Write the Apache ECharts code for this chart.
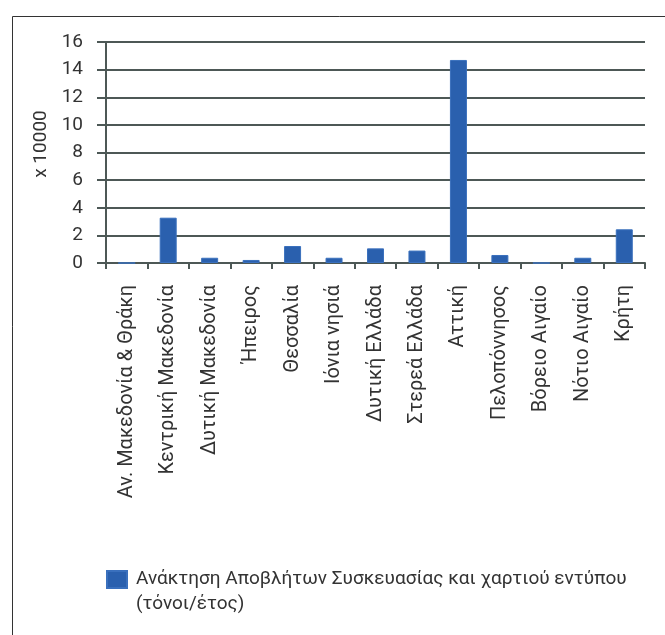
<!DOCTYPE html>
<html>
<head>
<meta charset="utf-8">
<script src="https://cdn.jsdelivr.net/npm/echarts@6/dist/echarts.min.js"></script>
<style>
html,body{margin:0;padding:0;background:#fff;}
#main{width:665px;height:635px;}
</style>
</head>
<body>
<div id="main"></div>
<script>
const categories = ["Αν. Μακεδονία & Θράκη","Κεντρική Μακεδονία","Δυτική Μακεδονία","Ήπειρος","Θεσσαλία","Ιόνια νησιά","Δυτική Ελλάδα","Στερεά Ελλάδα","Αττική","Πελοπόννησος","Βόρειο Αιγαίο","Νότιο Αιγαίο","Κρήτη"];
const values = [0, 3.28, 0.38, 0.22, 1.23, 0.38, 1.06, 0.9, 14.7, 0.58, 0, 0.38, 2.44];
const seriesName = "Ανάκτηση Αποβλήτων Συσκευασίας και χαρτιού εντύπου (τόνοι/έτος)";
const yTicks = { min: 0, max: 16, interval: 2 };
const yName = "x 10000";

const FONT = 'Roboto, "Noto Sans", sans-serif';
const AXIS = '#4d5856';
const TEXT = '#333';
const chart = echarts.init(document.getElementById('main'));
chart.setOption({
  animation: false,
  backgroundColor: '#fff',
  textStyle: { fontFamily: FONT },
  graphic: [{
    type: 'rect', left: 10, top: 14,
    shape: { width: 700, height: 700 },
    style: { fill: 'none', stroke: '#333', lineWidth: 1 }
  }],
  grid: { left: 106, right: 20, top: 42, bottom: 372, containLabel: false },
  legend: {
    left: 106, top: 542, padding: 0,
    itemWidth: 20, itemHeight: 17,
    icon: 'rect',
    formatter: function (n) { return '\n' + n.replace(' (', '\n('); },
    textStyle: { fontSize: 19, color: TEXT, lineHeight: 25, padding: [0, 0, 0, 4], fontFamily: FONT }
  },
  xAxis: {
    type: 'category', data: categories,
    axisLine: { lineStyle: { color: AXIS, width: 2 } },
    axisTick: { show: true, length: 6, alignWithLabel: false, lineStyle: { color: AXIS, width: 2 } },
    axisLabel: { interval: 0, rotate: 90, fontSize: 20, color: TEXT, margin: 22, fontFamily: FONT }
  },
  yAxis: {
    type: 'value', min: yTicks.min, max: yTicks.max, interval: yTicks.interval,
    name: yName, nameLocation: 'middle', nameRotate: 90, nameGap: 52,
    nameTextStyle: { fontSize: 19, color: TEXT, fontFamily: FONT, padding: [0, 0, 0, 17] },
    axisLine: { show: true, lineStyle: { color: AXIS, width: 2 } },
    axisTick: { show: true, length: 9, lineStyle: { color: AXIS, width: 2 } },
    axisLabel: { fontSize: 19, color: TEXT, margin: 23, fontFamily: FONT },
    splitLine: { show: true, lineStyle: { color: AXIS, width: 2 } }
  },
  series: [{
    name: seriesName, type: 'bar', data: values, barWidth: 17,
    itemStyle: { color: '#2a60ae', borderColor: '#3a70bd', borderWidth: 1 }
  }]
});
</script>
</body>
</html>
